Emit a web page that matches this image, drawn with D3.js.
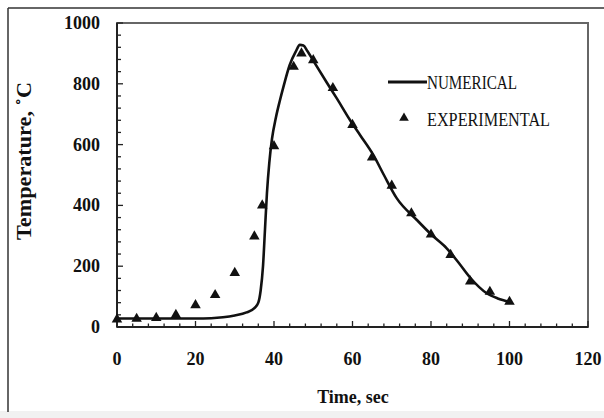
<!DOCTYPE html>
<html>
<head>
<meta charset="utf-8">
<script src="https://cdn.jsdelivr.net/npm/d3@7"></script>
<style>
 body { margin: 0; background: #fff; }
 text { font-family: "Liberation Serif", "Times New Roman", serif; fill: #111; }
 .tick-label { font-size: 18px; font-weight: bold; }
 .axis-title { font-size: 18px; font-weight: bold; }
 .legend-text { font-size: 19px; }
</style>
</head>
<body>
<div id="chart"></div>
<script>
// numerical solution (time in s, temperature in C)
var numTime = [0, 5, 10, 15, 20, 24, 27, 30, 33, 35, 36, 36.6, 37.2, 37.7, 38.2, 38.8, 39.5, 40.5, 41.5, 42.4, 44, 45.5, 46.6, 47.5, 48.5, 50, 53.4, 56, 59.4, 62, 65.3, 68, 71.3, 76.4, 80, 84, 87, 90, 94.2, 97, 100];
var numTemp = [28, 28, 28, 28, 28, 29, 32, 38, 48, 62, 80, 120, 200, 320, 440, 540, 620, 690, 745, 790, 862, 905, 928, 926, 908, 876, 805, 752, 680, 630, 566, 500, 423, 352, 305, 259, 212, 162, 111, 94, 83];

// experimental measurements
var expTime = [0, 5, 10, 15, 20, 25, 30, 35, 37, 40, 45, 47, 50, 55, 60, 65, 70, 75, 80, 85, 90, 95, 100];
var expTemp = [25, 27, 30, 40, 72, 105, 178, 298, 400, 595, 856, 900, 878, 786, 665, 558, 465, 374, 304, 237, 150, 116, 83];

var xTicks = [0, 20, 40, 60, 80, 100, 120];
var yTicks = [0, 200, 400, 600, 800, 1000];

var W = 604, H = 418;
// plot area edges (note: "top" is reserved on window)
var pLeft = 117, pRight = 588, pTop = 23, pBottom = 327;

var svg = d3.select("#chart").append("svg")
    .attr("width", W)
    .attr("height", H);

// outer figure frame (only top & left visible in the scan)
svg.append("rect").attr("x", 0).attr("y", 411).attr("width", W).attr("height", 7).attr("fill", "#f1f1f1");
svg.append("line").attr("x1", 8).attr("y1", 8).attr("x2", W).attr("y2", 8)
    .attr("stroke", "#333").attr("stroke-width", 1.5);
svg.append("line").attr("x1", 8).attr("y1", 8).attr("x2", 8).attr("y2", 412)
    .attr("stroke", "#333").attr("stroke-width", 1.5);

var x = d3.scaleLinear().domain([0, 120]).range([pLeft, pRight]);
var y = d3.scaleLinear().domain([0, 1000]).range([pBottom, pTop]);

// plot border
svg.append("rect")
    .attr("x", pLeft).attr("y", pTop)
    .attr("width", pRight - pLeft).attr("height", pBottom - pTop)
    .attr("fill", "none").attr("stroke", "#666").attr("stroke-width", 2);

// minor ticks: x every 4, y every 40 (pointing inwards)
var g = svg.append("g");
d3.range(0, 121, 4).forEach(function(v) {
  var major = v % 20 === 0;
  g.append("line")
    .attr("x1", x(v)).attr("x2", x(v))
    .attr("y1", pBottom).attr("y2", pBottom - (major ? 6 : 3.5))
    .attr("stroke", "#222").attr("stroke-width", 1.3);
});
d3.range(0, 1001, 40).forEach(function(v) {
  var major = v % 200 === 0;
  g.append("line")
    .attr("x1", pLeft).attr("x2", pLeft + (major ? 6 : 4))
    .attr("y1", y(v)).attr("y2", y(v))
    .attr("stroke", "#222").attr("stroke-width", 1.3);
});

// axis lines
svg.append("line").attr("x1", pLeft).attr("x2", pRight).attr("y1", pBottom).attr("y2", pBottom)
    .attr("stroke", "#222").attr("stroke-width", 2);
svg.append("line").attr("x1", pLeft).attr("x2", pLeft).attr("y1", pTop).attr("y2", pBottom)
    .attr("stroke", "#222").attr("stroke-width", 2);

// tick labels
svg.selectAll(".xl").data(xTicks).enter().append("text")
    .attr("class", "tick-label")
    .attr("x", function(d) { return x(d); })
    .attr("y", 365)
    .attr("text-anchor", "middle")
    .text(function(d) { return d; });

svg.selectAll(".yl").data(yTicks).enter().append("text")
    .attr("class", "tick-label")
    .attr("x", 100)
    .attr("y", function(d) { return y(d) + 6; })
    .attr("text-anchor", "end")
    .text(function(d) { return d; });

// axis titles
svg.append("text")
    .attr("class", "axis-title")
    .attr("x", 353).attr("y", 403)
    .attr("text-anchor", "middle")
    .text("Time, sec");

svg.append("text")
    .attr("class", "axis-title")
    .attr("transform", "translate(31,161) rotate(-90)")
    .attr("text-anchor", "middle")
    .attr("textLength", 158)
    .attr("lengthAdjust", "spacingAndGlyphs")
    .style("font-size", "20px")
    .text("Temperature, \u02DAC");

// numerical curve
var line = d3.line()
    .x(function(d, i) { return x(numTime[i]); })
    .y(function(d) { return y(d); })
    .curve(d3.curveMonotoneX);

svg.append("path")
    .datum(numTemp)
    .attr("d", line)
    .attr("fill", "none")
    .attr("stroke", "#111")
    .attr("stroke-width", 2.6);

// experimental triangles
var tri = d3.symbol().type(d3.symbolTriangle).size(48);
svg.selectAll(".exp").data(expTemp).enter().append("path")
    .attr("d", tri)
    .attr("transform", function(d, i) { return "translate(" + x(expTime[i]) + "," + y(d) + ")"; })
    .attr("fill", "#111");

// legend
svg.append("line").attr("x1", 388).attr("x2", 427).attr("y1", 82).attr("y2", 82)
    .attr("stroke", "#111").attr("stroke-width", 3);
svg.append("text").attr("class", "legend-text")
    .attr("x", 427).attr("y", 89)
    .attr("textLength", 90).attr("lengthAdjust", "spacingAndGlyphs")
    .text("NUMERICAL");
svg.append("path").attr("d", d3.symbol().type(d3.symbolTriangle).size(40))
    .attr("transform", "translate(404,118)").attr("fill", "#111");
svg.append("text").attr("class", "legend-text")
    .attr("x", 427).attr("y", 126)
    .attr("textLength", 123).attr("lengthAdjust", "spacingAndGlyphs")
    .text("EXPERIMENTAL");
</script>
</body>
</html>
